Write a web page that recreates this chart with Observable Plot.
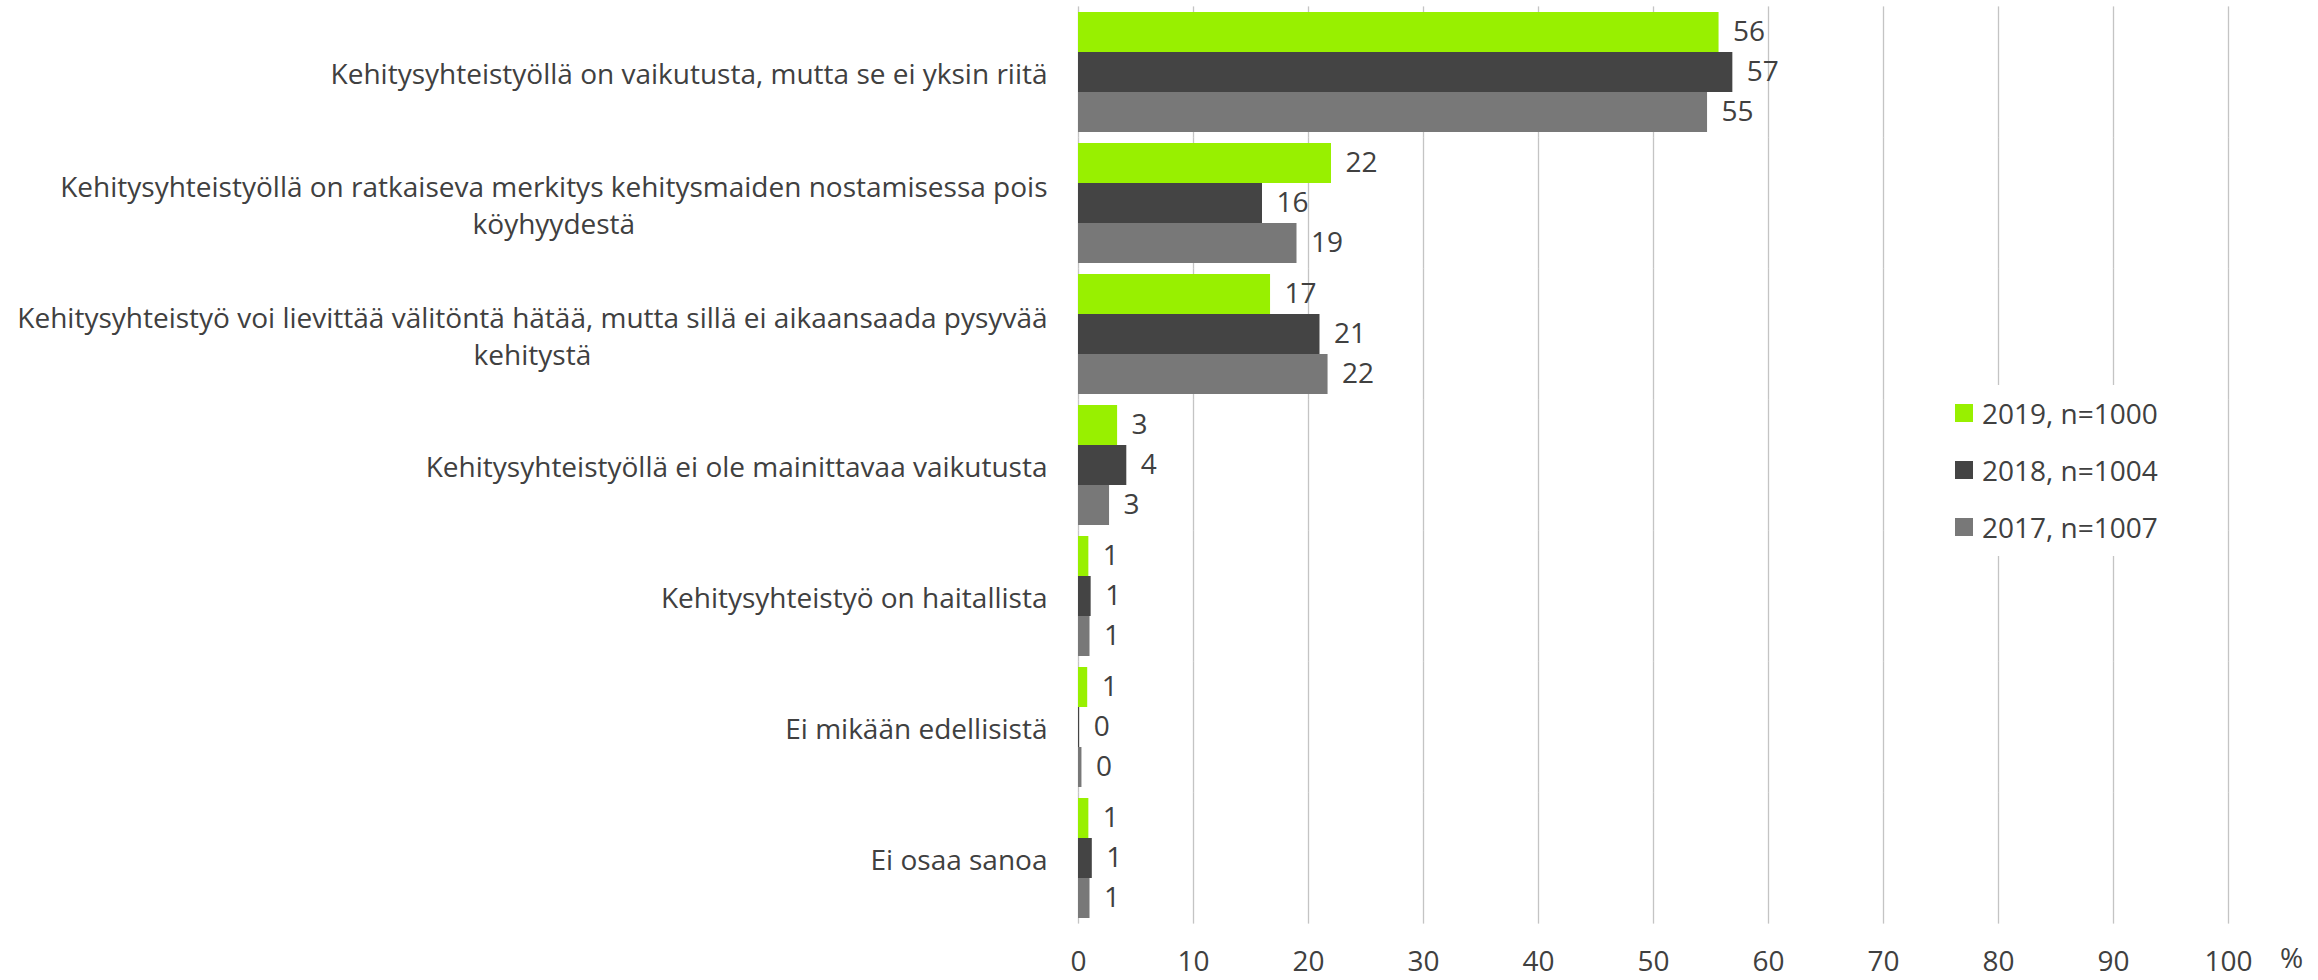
<!DOCTYPE html>
<html><head><meta charset="utf-8">
<script src="https://cdn.jsdelivr.net/npm/d3@7"></script>
<script src="https://cdn.jsdelivr.net/npm/@observablehq/plot@0.6"></script>
<style>
  html, body { margin: 0; padding: 0; background: #fff; }
  #wrap { position: relative; width: 2318px; height: 980px; }
  #legend { position: absolute; left: 1940px; top: 385px; width: 275px; height: 171px; background: #fff;
            font: 28px "Open Sans", sans-serif; color: #404040; }
  .row { position: absolute; left: 15px; height: 40px; display: flex; align-items: center; white-space: nowrap; }
  .sw { width: 18px; height: 18px; margin-right: 9px; }
</style>
</head>
<body>
<div id="wrap"><div id="legend"></div></div>
<script>
// ---- data ----
const categories = [
  "Kehitysyhteistyöllä on vaikutusta, mutta se ei yksin riitä",
  "Kehitysyhteistyöllä on ratkaiseva merkitys kehitysmaiden nostamisessa pois\nköyhyydestä",
  "Kehitysyhteistyö voi lievittää välitöntä hätää, mutta sillä ei aikaansaada pysyvää\nkehitystä",
  "Kehitysyhteistyöllä ei ole mainittavaa vaikutusta",
  "Kehitysyhteistyö on haitallista",
  "Ei mikään edellisistä",
  "Ei osaa sanoa"
];
const series = ["2019, n=1000", "2018, n=1004", "2017, n=1007"];
const values2019 = [55.7, 22.0, 16.7, 3.4, 0.9, 0.8, 0.9];
const values2018 = [56.9, 16.0, 21.0, 4.2, 1.1, 0.1, 1.2];
const values2017 = [54.7, 19.0, 21.7, 2.7, 1.0, 0.3, 1.0];
const xTicks = [0, 10, 20, 30, 40, 50, 60, 70, 80, 90, 100];
const axisTitle = "%";
const colors = ["#98f000", "#444444", "#787878"];
const textColor = "#404040";

// ---- table ----
const seriesValues = [values2019, values2018, values2017];
const data = [];
categories.forEach((c, i) => series.forEach((s, j) => data.push({category: c, series: s, value: seriesValues[j][i]})));
const lastCategory = categories[categories.length - 1];

// measure label widths to center the wrapped lines as a block
const ctx = document.createElement("canvas").getContext("2d");
ctx.font = '28px "Open Sans"';
const blockWidth = c => Math.max(...c.split("\n").map(l => ctx.measureText(l).width));

const labelMarks = categories.map(c => Plot.text([c], {
  fy: d => d, frameAnchor: "left", text: d => d, textAnchor: "middle",
  lineHeight: 1.32, dx: -(31 + blockWidth(c) / 2), fill: textColor
}));

const chart = Plot.plot({
  width: 2318, height: 980,
  marginLeft: 1078, marginRight: 90, marginTop: 6, marginBottom: 56,
  style: {fontFamily: '"Open Sans", sans-serif', fontSize: "28px", color: textColor, background: "#fff"},
  x: {domain: [0, 100], axis: null},
  y: {domain: series, axis: null, paddingInner: 0, paddingOuter: 0},
  fy: {domain: categories, axis: null, paddingInner: 11 / 131, paddingOuter: 5.5 / 131},
  color: {domain: series, range: colors},
  marks: [
    Plot.ruleX(xTicks, {x: d => d, stroke: "#c4c4c4", strokeWidth: 1.3, insetTop: -5.6, insetBottom: -5.6}),
    Plot.barX(data, {fy: "category", y: "series", x: "value", fill: "series"}),
    Plot.text(data, {fy: "category", y: "series", x: "value", text: d => String(Math.round(d.value)),
      textAnchor: "start", dx: 14, fill: textColor}),
    ...labelMarks,
    Plot.text(xTicks, {fy: () => lastCategory, x: d => d, text: d => String(d), frameAnchor: "bottom",
      lineAnchor: "top", dy: 33, fill: textColor}),
    Plot.text([axisTitle], {fy: () => lastCategory, x: () => xTicks[xTicks.length - 1], text: d => d,
      frameAnchor: "bottom", lineAnchor: "top", dy: 30, dx: 63, fill: textColor})
  ]
});
document.getElementById("wrap").prepend(chart);

// legend
const legend = document.getElementById("legend");
series.forEach((s, j) => {
  const row = document.createElement("div");
  row.className = "row";
  row.style.top = (8 + j * 57) + "px";
  const sw = document.createElement("span");
  sw.className = "sw";
  sw.style.background = colors[j];
  const t = document.createElement("span");
  t.textContent = s;
  row.append(sw, t);
  legend.append(row);
});
</script>
</body></html>
